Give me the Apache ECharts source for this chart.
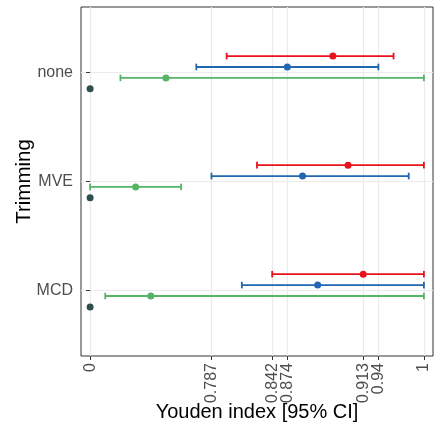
<!DOCTYPE html>
<html><head><meta charset="utf-8">
<script src="https://cdn.jsdelivr.net/npm/echarts@6/dist/echarts.min.js"></script>
<style>html,body{margin:0;padding:0;background:#fff}#c{width:438px;height:433px}</style>
</head><body><div id="c"></div>
<script>
// y categories (bottom to top)
const categories = ['MCD', 'MVE', 'none'];
// x axis is an ordered discrete scale: level index -> shown tick labels
const tickLevels = [0, 8, 12, 13, 18, 19, 22];
const tickLabels = ['0', '0.787', '0.842', '0.874', '0.913', '0.94', '1'];
// series values given as level index on the discrete x scale, per category
const redEst = [18, 17, 16];
const redLo = [12, 11, 9];
const redHi = [22, 22, 20];
const blueEst = [15, 14, 13];
const blueLo = [10, 8, 7];
const blueHi = [22, 21, 19];
const greenEst = [4, 3, 5];
const greenLo = [1, 0, 2];
const greenHi = [22, 6, 22];
const darkEst = [0, 0, 0];

const groups = [
  { est: redEst, lo: redLo, hi: redHi, color: '#e8121c', dodge: 0.15 },
  { est: blueEst, lo: blueLo, hi: blueHi, color: '#2166b0', dodge: 0.05 },
  { est: greenEst, lo: greenLo, hi: greenHi, color: '#55b466', dodge: -0.05 },
  { est: darkEst, lo: null, hi: null, color: '#2f4f4f', dodge: -0.15 }
];

const series = [];
groups.forEach(g => {
  if (g.lo) {
    series.push({
      type: 'custom',
      z: 3,
      data: categories.map((c, i) => [g.lo[i], g.hi[i], i + 1 + g.dodge]),
      encode: { x: [0, 1], y: 2 },
      renderItem: function (params, api) {
        const a = api.coord([api.value(0), api.value(2)]);
        const b = api.coord([api.value(1), api.value(2)]);
        const h = 3.3;
        const st = { stroke: g.color, lineWidth: 1.8, fill: null };
        return {
          type: 'group',
          children: [
            { type: 'line', shape: { x1: a[0], y1: a[1], x2: b[0], y2: b[1] }, style: st },
            { type: 'line', shape: { x1: a[0], y1: a[1] - h, x2: a[0], y2: a[1] + h }, style: st },
            { type: 'line', shape: { x1: b[0], y1: b[1] - h, x2: b[0], y2: b[1] + h }, style: st }
          ]
        };
      }
    });
  }
  series.push({
    type: 'scatter',
    z: 4,
    symbol: 'circle',
    symbolSize: 7,
    itemStyle: { color: g.color, opacity: 1 },
    data: categories.map((c, i) => [g.est[i], i + 1 + g.dodge])
  });
});

const chart = echarts.init(document.getElementById('c'), null, { renderer: 'canvas' });
chart.setOption({
  animation: false,
  backgroundColor: '#fff',
  textStyle: { fontFamily: 'Liberation Sans' },
  grid: {
    left: 81, top: 7, width: 352, height: 349,
    show: true, borderColor: '#333333', borderWidth: 1, backgroundColor: 'transparent',
    containLabel: false, outerBoundsMode: 'none'
  },
  xAxis: {
    type: 'value', min: -0.6, max: 22.6,
    name: 'Youden index [95% CI]', nameLocation: 'middle', nameGap: 46, nameMoveOverlap: false,
    nameTextStyle: { color: '#000', fontSize: 20, fontFamily: 'Liberation Sans' },
    axisLine: { show: false },
    axisTick: { show: true, length: 4, lineStyle: { color: '#333', width: 1 }, customValues: tickLevels },
    axisLabel: {
      show: true, rotate: 90, margin: 7, color: '#4d4d4d', fontSize: 16,
      fontFamily: 'Liberation Sans',
      customValues: tickLevels,
      formatter: v => { const k = tickLevels.indexOf(Math.round(v)); return k >= 0 ? tickLabels[k] : ''; }
    },
    splitLine: { show: true, lineStyle: { color: '#ebebeb', width: 1.2 } }
  },
  yAxis: {
    type: 'value', min: 0.4, max: 3.6,
    name: 'Trimming', nameLocation: 'middle', nameGap: 46, nameRotate: 90, nameMoveOverlap: false,
    nameTextStyle: { color: '#000', fontSize: 20.5, fontFamily: 'Liberation Sans' },
    axisLine: { show: false },
    axisTick: { show: true, length: 4, lineStyle: { color: '#333', width: 1 }, customValues: [1, 2, 3] },
    axisLabel: {
      show: true, margin: 8, color: '#4d4d4d', fontSize: 16, fontFamily: 'Liberation Sans',
      customValues: [1, 2, 3],
      formatter: v => categories[Math.round(v) - 1] || ''
    },
    splitLine: { show: true, lineStyle: { color: '#ebebeb', width: 1.2 } }
  },
  series: series
});
</script></body></html>
